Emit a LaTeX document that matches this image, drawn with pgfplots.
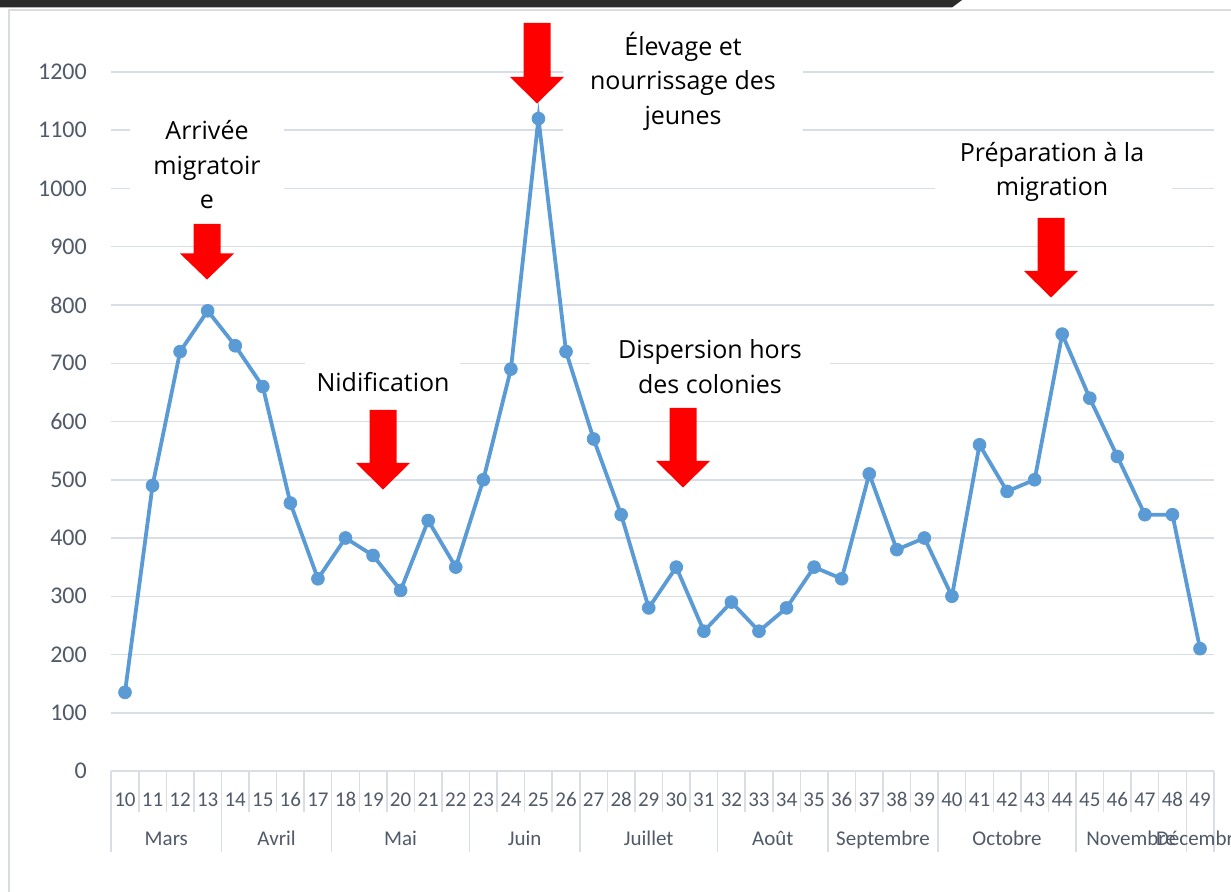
\documentclass[border=0pt]{standalone}
\usepackage{fontspec}
\usepackage{pgfplots}
\usepackage{pgfplotstable}
\pgfplotsset{compat=1.18}
\newfontfamily\calibri{Carlito}
\newfontfamily\annot{Open Sans}
\definecolor{gridc}{RGB}{217,222,230}
\definecolor{tickc}{RGB}{80,90,105}
\definecolor{serie}{RGB}{91,155,213}
\definecolor{framec}{RGB}{217,220,225}
\definecolor{topbar}{RGB}{43,43,43}

\pgfplotstableread{
w v
10 135
11 490
12 720
13 790
14 730
15 660
16 460
17 330
18 400
19 370
20 310
21 430
22 350
23 500
24 690
25 1120
26 720
27 570
28 440
29 280
30 350
31 240
32 290
33 240
34 280
35 350
36 330
37 510
38 380
39 400
40 300
41 560
42 480
43 500
44 750
45 640
46 540
47 440
48 440
49 210
}\datatable

\begin{document}
\begin{tikzpicture}
\useasboundingbox (0,0) rectangle (615.5pt,-446pt);
\clip (0,0) rectangle (615.5pt,-446pt);
\fill[white] (0,0) rectangle (615.5pt,-446pt);
\begin{scope}[x=0.5pt,y=-0.5pt]
\fill[topbar] (0,0) -- (962,0) -- (952,7.5) -- (0,7.5) -- cycle;
\draw[framec, line width=0.75pt] (1235,10) -- (9,10) -- (9,895);
\end{scope}
\begin{axis}[
  at={(55.6pt,-385.5pt)}, anchor=south west,
  scale only axis, width=551.3pt, height=349.5pt,
  xmin=9.5, xmax=49.5, ymin=0, ymax=1200,
  xtick={10,...,49}, ytick={0,100,...,1200},
  axis line style={draw=none},
  tick style={draw=none},
  major tick length=0pt,
  ymajorgrids, grid style={gridc, line width=0.75pt},
  /pgf/number format/assume math mode=true,
  /pgf/number format/1000 sep={},
  yticklabel style={font=\calibri\fontsize{12}{12}\selectfont, text=tickc, anchor=east, inner sep=0pt, xshift=-12pt},
  xticklabel style={font=\calibri\fontsize{10.5}{10.5}\selectfont, text=tickc, anchor=base, inner sep=0pt, yshift=-17.75pt},
  clip=false,
]
\pgfplotsinvokeforeach{9.5,10.5,...,49.5}{
  \draw[gridc, line width=0.75pt] (axis cs:#1,0) -- ([yshift=-20.5pt]axis cs:#1,0);
}
\pgfplotsinvokeforeach{9.5,13.5,17.5,22.5,26.5,31.5,35.5,39.5,44.5,48.5,49.5}{
  \draw[gridc, line width=0.75pt] (axis cs:#1,0) -- ([yshift=-40.5pt]axis cs:#1,0);
}
\addplot[serie, line width=1.9pt, mark=*, mark size=3.2pt, mark options={fill=serie, draw=serie, line width=0.4pt}] table[x=w,y=v]{\datatable};
\begin{scope}[every node/.style={font=\calibri\fontsize{10.5}{10.5}\selectfont, text=tickc, anchor=base, yshift=-37.25pt, inner sep=0pt}]
\node at (axis cs:11.5,0) {Mars};
\node at (axis cs:15.5,0) {Avril};
\node at (axis cs:20,0) {Mai};
\node at (axis cs:24.5,0) {Juin};
\node at (axis cs:29,0) {Juillet};
\node at (axis cs:33.5,0) {Août};
\node at (axis cs:37.5,0) {Septembre};
\node at (axis cs:42,0) {Octobre};
\node at (axis cs:46.5,0) {Novembre};
\node at (axis cs:49,0) {Décembre};
\end{scope}
\end{axis}
\begin{scope}[x=0.5pt,y=-0.5pt]
% white text boxes
\fill[white] (130,108) rectangle (284,222);
\fill[white] (563,24) rectangle (803,138);
\fill[white] (590,330) rectangle (830,400);
\fill[white] (305,360) rectangle (460,402);
\fill[white] (935,135) rectangle (1172,207);
% texts
\begin{scope}[every node/.style={font=\annot\fontsize{12.5}{17.25}\selectfont, align=center, inner sep=0pt, text=black}]
\node at (207,165) {Arrivée\\migratoir\\e};
\node at (683,81) {Élevage et\\nourrissage des\\jeunes};
\node at (710,366.5) {Dispersion hors\\des colonies};
\node at (383,382) {Nidification};
\node at (1052,172) {Préparation à la\\migration};
\end{scope}
% arrows
\fill[red] (193.5,224) -- (220.5,224) -- (220.5,253.5) -- (234,253.5) -- (207,279.5) -- (180,253.5) -- (193.5,253.5) -- cycle;
\fill[red] (369.5,410) -- (396.5,410) -- (396.5,463) -- (410,463) -- (383,489.5) -- (356,463) -- (369.5,463) -- cycle;
\fill[red] (523.5,23) -- (550.5,23) -- (550.5,77) -- (564,77) -- (537,103.5) -- (510,77) -- (523.5,77) -- cycle;
\fill[red] (669.5,408) -- (696.5,408) -- (696.5,461) -- (710,461) -- (683,487.5) -- (656,461) -- (669.5,461) -- cycle;
\fill[red] (1037.5,218) -- (1064.5,218) -- (1064.5,271) -- (1078,271) -- (1051,297.5) -- (1024,271) -- (1037.5,271) -- cycle;
\end{scope}
\end{tikzpicture}
\end{document}
